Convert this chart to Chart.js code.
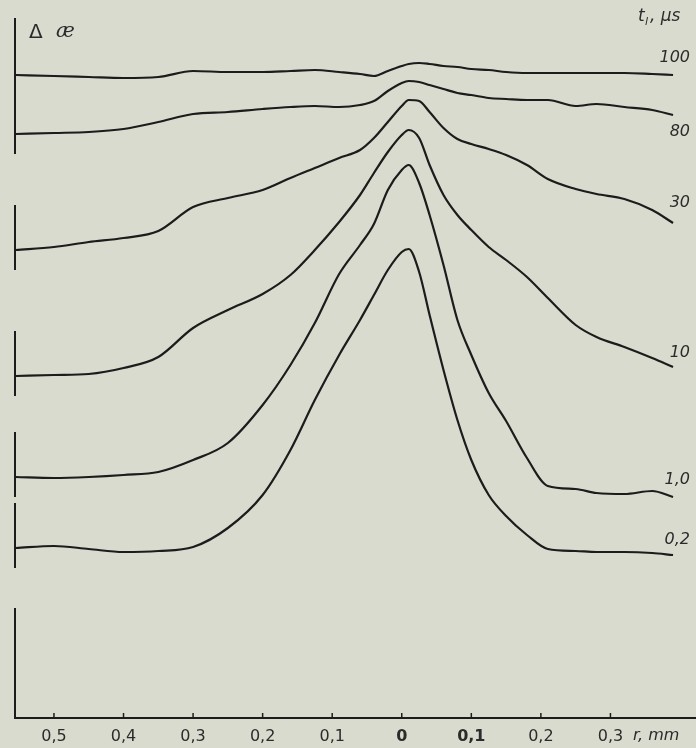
<!DOCTYPE html>
<html>
<head>
<meta charset="utf-8">
<script src="https://cdn.jsdelivr.net/npm/chart.js@4.4.0/dist/chart.umd.min.js"></script>
<style>
  html, body { margin: 0; padding: 0; background: #dadbcf; }
  #wrap { width: 696px; height: 748px; position: relative; }
</style>
</head>
<body>
<div id="wrap"><canvas id="chart"></canvas></div>
<script>
// Radius r, mm (negative = left half of the profile)
const rValues = [-0.555, -0.5, -0.45, -0.4, -0.35, -0.3, -0.25, -0.2, -0.16, -0.125, -0.09, -0.06, -0.04, -0.02,
  0, 0.01, 0.025, 0.04, 0.06, 0.08, 0.1, 0.125, 0.15, 0.18, 0.21, 0.25, 0.28, 0.32, 0.36, 0.39];

// Δæ profiles (curves shifted vertically, arbitrary units) for each delay t_l, µs
const curve100 = [64.3, 64.2, 64.1, 64.0, 64.1, 64.7, 64.6, 64.6, 64.7, 64.8, 64.6, 64.4, 64.2, 64.7,
  65.2, 65.4, 65.5, 65.4, 65.2, 65.1, 64.9, 64.8, 64.6, 64.5, 64.5, 64.5, 64.5, 64.5, 64.4, 64.3];
const curve80 = [58.4, 58.5, 58.6, 58.9, 59.6, 60.4, 60.6, 60.9, 61.1, 61.2, 61.1, 61.3, 61.7, 62.7,
  63.5, 63.7, 63.6, 63.3, 62.9, 62.5, 62.3, 62.0, 61.9, 61.8, 61.8, 61.2, 61.4, 61.1, 60.8, 60.3];
const curve30 = [46.8, 47.1, 47.6, 48.0, 48.7, 51.1, 52.0, 52.8, 54.0, 55.0, 56.0, 56.8, 58.0, 59.6,
  61.2, 61.8, 61.7, 60.6, 59.0, 57.9, 57.4, 56.9, 56.3, 55.3, 53.9, 52.9, 52.4, 51.9, 50.8, 49.5];
const curve10 = [34.2, 34.3, 34.4, 35.0, 36.1, 39.0, 40.8, 42.4, 44.3, 46.8, 49.6, 52.3, 54.5, 56.6,
  58.3, 58.8, 58.0, 55.3, 52.3, 50.3, 48.8, 47.1, 45.8, 44.1, 42.0, 39.3, 38.1, 37.1, 36.0, 35.1];
const curve1 = [24.1, 24.0, 24.1, 24.3, 24.6, 25.8, 27.5, 31.3, 35.3, 39.5, 44.4, 47.3, 49.4, 52.8,
  54.8, 55.3, 53.5, 50.3, 45.3, 39.8, 36.3, 32.5, 29.7, 26.0, 23.2, 22.9, 22.5, 22.4, 22.7, 22.1];
const curve02 = [17.0, 17.2, 16.9, 16.6, 16.7, 17.1, 19.0, 22.3, 26.8, 31.8, 36.3, 39.8, 42.3, 44.8,
  46.6, 46.9, 44.6, 40.3, 34.8, 29.8, 25.8, 22.3, 20.2, 18.3, 16.9, 16.7, 16.6, 16.6, 16.5, 16.3];

const curveLabels = ["100", "80", "30", "10", "1,0", "0,2"];
const xTickValues = [-0.5, -0.4, -0.3, -0.2, -0.1, 0, 0.1, 0.2, 0.3];

const ink = "#1c1c1c";
const textInk = "#2b2b2b";
const series = [curve100, curve80, curve30, curve10, curve1, curve02];

// vertical offset of each curve label from the curve end (px)
const labelOffsets = [-17, 17, -20, -14, -17, -15];

// Draws segmented y axis, inward ticks and the annotations
const annotations = {
  id: "annotations",
  afterDraw(chart) {
    const ctx = chart.ctx;
    const area = chart.chartArea;
    const xs = chart.scales.x;
    const ys = chart.scales.y;
    ctx.save();
    ctx.strokeStyle = ink;
    ctx.lineWidth = 2;

    // y axis pieces around each curve start
    chart.data.datasets.forEach((ds, i) => {
      const py = ys.getPixelForValue(ds.data[0].y);
      ctx.beginPath();
      ctx.moveTo(area.left, i === 0 ? area.top : py - 45);
      ctx.lineTo(area.left, py + 20);
      ctx.stroke();
    });
    ctx.beginPath();
    ctx.moveTo(area.left, ys.getPixelForValue(11));
    ctx.lineTo(area.left, area.bottom);
    ctx.stroke();

    // small ticks pointing up
    ctx.lineWidth = 1.5;
    xTickValues.forEach((v) => {
      const px = xs.getPixelForValue(v);
      ctx.beginPath();
      ctx.moveTo(px, area.bottom);
      ctx.lineTo(px, area.bottom - 5);
      ctx.stroke();
    });

    ctx.fillStyle = textInk;
    ctx.textBaseline = "middle";

    // curve labels
    ctx.font = "italic 16px 'DejaVu Sans', sans-serif";
    ctx.textAlign = "right";
    chart.data.datasets.forEach((ds, i) => {
      const last = ds.data[ds.data.length - 1];
      const py = ys.getPixelForValue(last.y);
      ctx.fillText(ds.label, 690, py + labelOffsets[i]);
    });

    // y title
    ctx.textAlign = "left";
    ctx.font = "20px 'DejaVu Sans', sans-serif";
    ctx.fillText("Δ", 29, 33);
    ctx.font = "italic 20px 'DejaVu Serif', serif";
    ctx.fillText("æ", 56, 32);

    // t_l, µs
    ctx.font = "italic 17px 'DejaVu Sans', sans-serif";
    ctx.fillText("t", 638, 17);
    ctx.font = "italic 11px 'DejaVu Sans', sans-serif";
    ctx.fillText("l", 645, 22);
    ctx.font = "italic 17px 'DejaVu Sans', sans-serif";
    ctx.fillText(", μs", 650, 17);

    // x title
    ctx.font = "italic 16px 'DejaVu Sans', sans-serif";
    ctx.fillText("r, mm", 633, 736);
    ctx.restore();
  },
};

const chart = new Chart(document.getElementById("chart"), {
  type: "line",
  data: {
    datasets: series.map((vals, i) => ({
      label: curveLabels[i],
      data: rValues.map((r, j) => ({ x: r, y: vals[j] })),
      borderColor: ink,
      borderWidth: 2.2,
      pointRadius: 0,
      fill: false,
      cubicInterpolationMode: "monotone",
    })),
  },
  options: {
    responsive: true,
    maintainAspectRatio: false,
    animation: false,
    devicePixelRatio: 1,
    layout: { padding: { left: 15, right: 0, top: 18, bottom: 0 } },
    plugins: {
      legend: { display: false },
      tooltip: { enabled: false },
    },
    scales: {
      x: {
        type: "linear",
        min: -0.556,
        max: 0.423,
        afterBuildTicks: (scale) => {
          scale.ticks = xTickValues.map((v) => ({ value: v }));
        },
        afterFit: (scale) => {
          scale.height = 30;
        },
        grid: { display: false, drawTicks: false },
        border: { display: true, color: ink, width: 2 },
        ticks: {
          padding: 9,
          color: textInk,
          maxRotation: 0,
          autoSkip: false,
          font: (c) => ({
            family: "'DejaVu Sans', sans-serif",
            size: 16,
            weight: c.tick && (c.tick.value === 0 || c.tick.value === 0.1) ? "bold" : "normal",
          }),
          callback: (v) => (v === 0 ? "0" : Math.abs(v).toFixed(1).replace(".", ",")),
        },
      },
      y: {
        display: false,
        min: 0,
        max: 70,
      },
    },
  },
  plugins: [annotations],
});
</script>
</body>
</html>
